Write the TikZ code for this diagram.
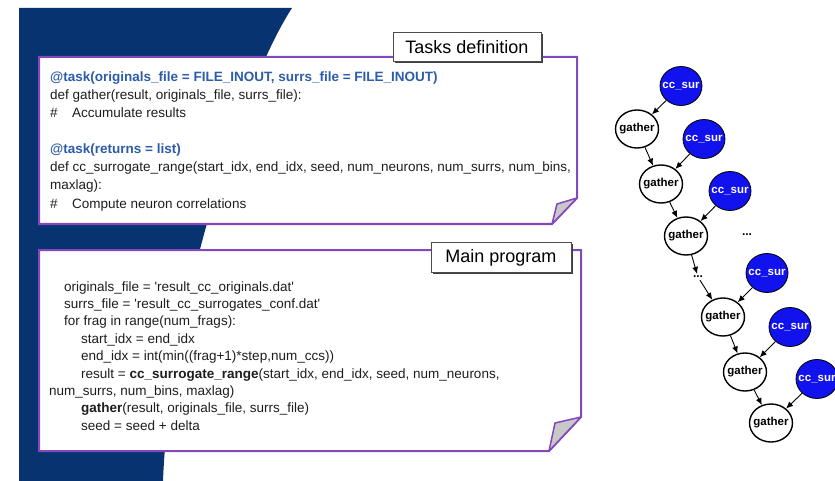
\documentclass[tikz,border=0pt]{standalone}
\usepackage{fontspec}
\setmainfont{Liberation Sans}
\usetikzlibrary{arrows.meta,shapes.geometric,shadows}

\definecolor{bgblue}{RGB}{7,51,113}
\definecolor{codeblue}{RGB}{45,92,170}
\definecolor{codeink}{RGB}{30,30,30}
\definecolor{boxpurple}{RGB}{132,72,188}
\definecolor{nodeblue}{RGB}{18,18,238}
\definecolor{foldgray}{RGB}{200,200,200}

\begin{document}
\begin{tikzpicture}[x=1pt,y=-1pt,
  code/.style={anchor=base west, inner sep=0pt, text=codeink,
    font=\fontsize{13.5}{16}\selectfont},
  deco/.style={code, text=codeblue, font=\fontsize{13.5}{16}\selectfont\bfseries},
  sheet/.style={fill=white, draw=boxpurple, line width=2pt, line join=miter},
  fold/.style={fill=foldgray, draw=boxpurple, line width=1.5pt, line join=round},
  tag/.style={draw=black!70, fill=white, line width=0.8pt, inner sep=0pt,
    font=\fontsize{18}{18}\selectfont,
    drop shadow={shadow xshift=1.5pt, shadow yshift=-1.5pt, fill=black!75, opacity=1}},
  gnode/.style={ellipse, draw=black, line width=1.4pt, fill=white,
    minimum width=43pt, minimum height=38pt, inner xsep=-5pt, inner ysep=0pt,
    font=\fontsize{11.5}{11.5}\selectfont\bfseries},
  cnode/.style={ellipse, draw=black, line width=0.8pt, fill=nodeblue, text=white,
    minimum width=42pt, minimum height=39pt, inner xsep=-5pt, inner ysep=0pt,
    font=\fontsize{11.5}{11.5}\selectfont\bfseries},
  dots/.style={inner sep=2pt, font=\fontsize{12}{12}\selectfont\bfseries},
  arr/.style={-{Latex[length=7pt,width=6pt]}, line width=0.9pt, black}]

\clip (0,0) rectangle (835,481);
\fill[white] (0,0) rectangle (835,481);

% dark blue backdrop with its curved right edge
\fill[bgblue] (19,8) -- (292,8) .. controls (246,78) and (170,300) .. (163,481)
  -- (19,481) -- cycle;

% ---- task definition sheet ----
\path[sheet] (39,57) -- (577,57) -- (577,198) -- (552,224) -- (39,224) -- cycle;
\path[fold] (552,224) -- (557,204) -- (577,198) -- cycle;
\node[tag, minimum width=148pt, minimum height=29pt] (tasklbl) at (467,47) {Tasks definition};

\node[deco] (t1) at (50,82) {@task(originals\_file = FILE\_INOUT, surrs\_file = FILE\_INOUT)};
\node[code] (t2) at (50,100) {def gather(result, originals\_file, surrs\_file):};
\node[code] (t3) at (50,118) {\makebox[22pt][l]{\#}Accumulate results};
\node[deco] (t4) at (50,154) {@task(returns = list)};
\node[code] (t5) at (50,172) {def cc\_surrogate\_range(start\_idx, end\_idx, seed, num\_neurons, num\_surrs, num\_bins,};
\node[code] (t6) at (50,190) {maxlag):};
\node[code] (t7) at (50,208) {\makebox[22pt][l]{\#}Compute neuron correlations};

% ---- main program sheet ----
\path[sheet] (39,250) -- (581,250) -- (581,417) -- (549,451) -- (39,451) -- cycle;
\path[fold] (549,451) -- (555,423) -- (581,417) -- cycle;
\node[tag, minimum width=140pt, minimum height=30pt] (mainlbl) at (501,257.5) {Main program};

\node[code] (m1) at (64,291) {originals\_file = \textquotesingle result\_cc\_originals.dat\textquotesingle};
\node[code] (m2) at (64,308.4) {surrs\_file = \textquotesingle result\_cc\_surrogates\_conf.dat\textquotesingle};
\node[code] (m3) at (64,325.8) {for frag in range(num\_frags):};
\node[code] (m4) at (81,343.2) {start\_idx = end\_idx};
\node[code] (m5) at (81,360.6) {end\_idx = int(min((frag+1)*step,num\_ccs))};
\node[code] (m6) at (81,378) {result = \textbf{cc\_surrogate\_range}(start\_idx, end\_idx, seed, num\_neurons,};
\node[code] (m7) at (49,395.4) {num\_surrs, num\_bins, maxlag)};
\node[code] (m8) at (81,412.8) {\textbf{gather}(result, originals\_file, surrs\_file)};
\node[code] (m9) at (81,430.2) {seed = seed + delta};

% ---- task graph ----
\node[cnode] (c1) at (681,86)  {cc\_sur};
\node[gnode] (g1) at (637,129) {gather};
\node[cnode] (c2) at (704,139) {cc\_sur};
\node[gnode] (g2) at (661,184) {gather};
\node[cnode] (c3) at (730,191) {cc\_sur};
\node[gnode] (g3) at (686,236) {gather};
\node[dots]  (dA) at (747,235) {...};
\node[dots]  (dB) at (698,277) {...};
\node[cnode] (c4) at (767,273) {cc\_sur};
\node[gnode] (g4) at (723,317) {gather};
\node[cnode] (c5) at (790,327) {cc\_sur};
\node[gnode] (g5) at (745,372) {gather};
\node[cnode] (c6) at (817,379) {cc\_sur};
\node[gnode] (g6) at (771,423) {gather};

\draw[arr] (c1) -- (g1);
\draw[arr] (g1) -- (g2);
\draw[arr] (c2) -- (g2);
\draw[arr] (g2) -- (g3);
\draw[arr] (c3) -- (g3);
\draw[arr] (g3) -- (dB);
\draw[arr] (dB) -- (g4);
\draw[arr] (c4) -- (g4);
\draw[arr] (g4) -- (g5);
\draw[arr] (c5) -- (g5);
\draw[arr] (g5) -- (g6);
\draw[arr] (c6) -- (g6);
\end{tikzpicture}
\end{document}
